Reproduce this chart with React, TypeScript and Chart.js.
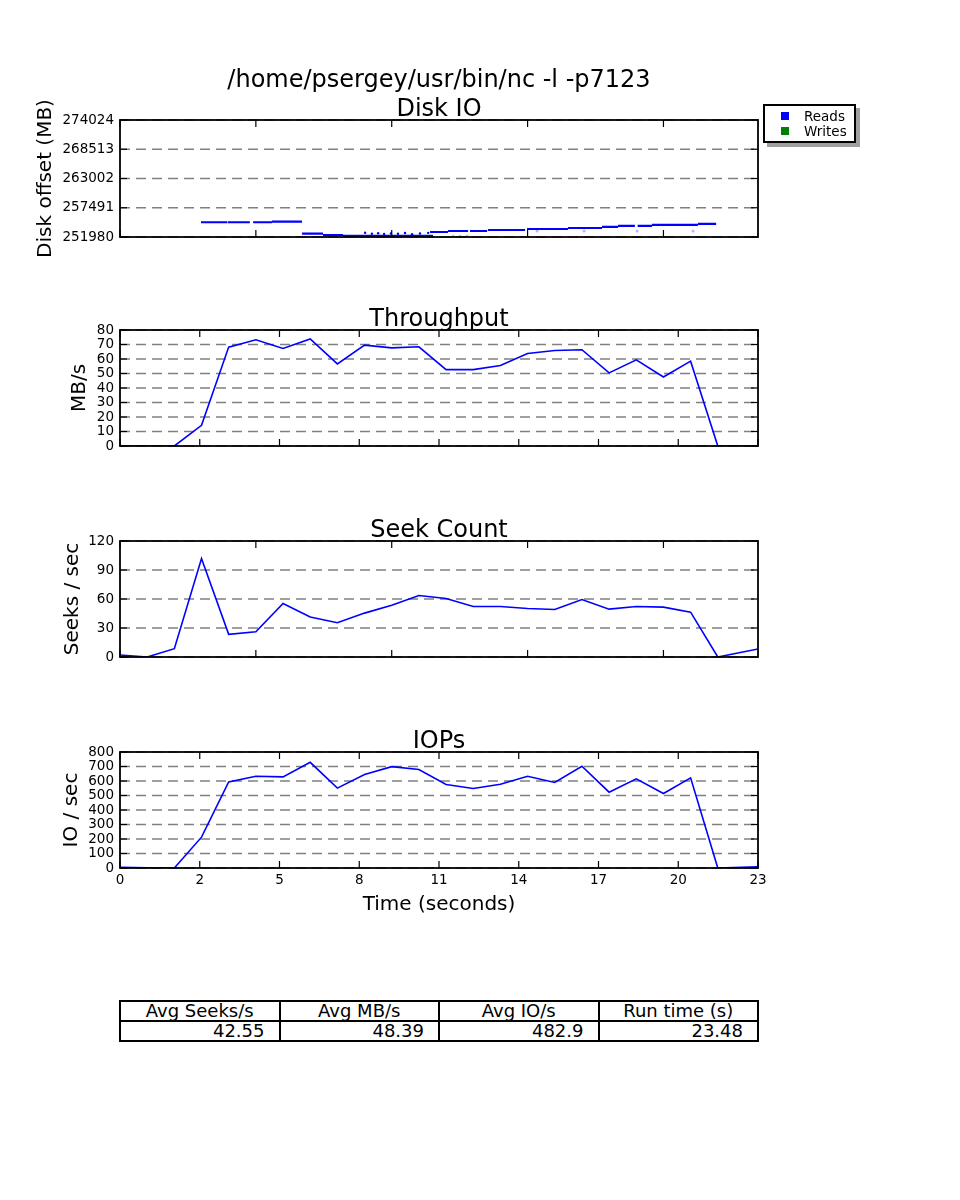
import React, { useEffect, useRef } from 'react';
import { Chart, registerables } from 'chart.js';

Chart.register(...registerables);

const FONT = "'DejaVu Sans', 'Liberation Sans', sans-serif";

// ---------- data ----------
const mainTitle = '/home/psergey/usr/bin/nc -l -p7123';
const runTime = 23.48;

const seconds = [0, 1, 2, 3, 4, 5, 6, 7, 8, 9, 10, 11, 12, 13, 14, 15, 16, 17, 18, 19, 20, 21, 22, 23.48];
const throughputMBs = [0, 0, 0, 14.3, 68.2, 73.3, 67.3, 73.8, 56.6, 69.6, 67.7, 68.4, 52.7, 52.7, 55.5, 63.8, 65.9, 66.4, 50.4, 59.4, 47.6, 58.5, 0, 0];
const seeksPerSec = [2.1, 0, 8.6, 101.8, 23.4, 26.1, 55.4, 41.3, 35.4, 45.4, 53.6, 63.6, 60.5, 52.3, 52.3, 50.2, 49.2, 59.5, 49.5, 52.3, 51.6, 46.4, 0, 8.3];
const iosPerSec = [5, 2, 0, 212.6, 594, 633, 628.6, 729, 551, 644.6, 699, 679, 576, 548.6, 578, 633, 590, 701.7, 523, 615, 514, 621.7, 0, 9];

// Disk IO: read runs (start time, end time, disk offset MB)
const readSegStart = [2.98, 3.96, 4.9, 5.59, 6.7, 7.47, 8.21, 11.41, 12.07, 12.88, 13.54, 14.98, 16.49, 17.74, 18.33, 19.05, 19.58, 21.27];
const readSegEnd = [3.94, 4.78, 5.59, 6.7, 7.47, 8.21, 11.52, 12.07, 12.81, 13.51, 14.91, 16.49, 17.74, 18.33, 18.95, 19.58, 21.27, 21.94];
const readSegOffset = [254757, 254757, 254757, 254889, 252603, 252358, 252207, 252925, 253113, 253113, 253302, 253491, 253680, 253869, 254058, 254058, 254247, 254436];
// scattered read requests
const readDotTime = [9.02, 9.27, 9.5, 9.72, 9.97, 10.23, 10.49, 10.75, 11.04, 11.34];
const readDotOffset = [252770, 252580, 252700, 252540, 252660, 252600, 252720, 252500, 252650, 252760];
const faintDotTime = [12.26, 12.51, 12.77, 15.35, 17.08, 19.03, 21.09];
const faintDotOffset = [252112, 252112, 252112, 253113, 253113, 253113, 253113];

// ticks
const diskTicks = [251980, 257491, 263002, 268513, 274024];
const throughputTicks = [0, 10, 20, 30, 40, 50, 60, 70, 80];
const seekTicks = [0, 30, 60, 90, 120];
const iopsTicks = [0, 100, 200, 300, 400, 500, 600, 700, 800];
const timeTickLabels = ['0', '2', '5', '8', '11', '14', '17', '20', '23'];
const fiveSecondTicks = [0, 5, 10, 15, 20];

// table + legend
const statHeaders = ['Avg Seeks/s', 'Avg MB/s', 'Avg IO/s', 'Run time (s)'];
const statValues = ['42.55', '48.39', '482.9', '23.48'];
const legendLabels = ['Reads', 'Writes'];
const legendColors = ['#0000ff', '#008000'];

// ---------- helpers ----------
const eighthTicks = timeTickLabels.map((_, i) => (runTime * i) / (timeTickLabels.length - 1));

const lineData = (vals: number[]) => seconds.map((x, i) => ({ x, y: vals[i] }));

const segData: { x: number; y: number | null }[] = [];
readSegStart.forEach((s, i) => {
  segData.push({ x: s, y: readSegOffset[i] });
  segData.push({ x: readSegEnd[i], y: readSegOffset[i] });
  segData.push({ x: readSegEnd[i], y: null });
});

const mplAxes = {
  id: 'mplAxes',
  beforeDatasetsDraw(chart: any) {
    const { ctx, chartArea: a } = chart;
    const ys = chart.scales.y;
    ctx.save();
    ctx.strokeStyle = '#808080';
    ctx.lineWidth = 1.6;
    ctx.setLineDash([10, 6]);
    ys.ticks.forEach((t: any) => {
      const py = ys.getPixelForValue(t.value);
      ctx.beginPath();
      ctx.moveTo(a.left, py);
      ctx.lineTo(a.right, py);
      ctx.stroke();
    });
    ctx.restore();
  },
  afterDatasetsDraw(chart: any) {
    const { ctx, chartArea: a } = chart;
    const xs = chart.scales.x;
    const ys = chart.scales.y;
    ctx.save();
    ctx.setLineDash([]);
    ctx.strokeStyle = '#000';
    ctx.lineWidth = 1.2;
    const seg = (x1: number, y1: number, x2: number, y2: number) => {
      ctx.beginPath();
      ctx.moveTo(x1, y1);
      ctx.lineTo(x2, y2);
      ctx.stroke();
    };
    xs.ticks.forEach((t: any) => {
      const px = xs.getPixelForValue(t.value);
      seg(px, a.bottom, px, a.bottom - 7);
      seg(px, a.top, px, a.top + 7);
    });
    ys.ticks.forEach((t: any) => {
      const py = ys.getPixelForValue(t.value);
      seg(a.left, py, a.left + 7, py);
      seg(a.right, py, a.right - 7, py);
    });
    ctx.lineWidth = 1.8;
    ctx.strokeRect(a.left, a.top, a.right - a.left, a.bottom - a.top);
    ctx.restore();
  },
};

type Panel = {
  top: number;
  height: number;
  titleLines: string[];
  titlePadBottom: number;
  yTitle: string;
  yTitleCenter: number;
  yMin: number;
  yMax: number;
  yTicks: number[];
  xTicks: number[];
  xLabels?: string[];
  xTitle?: string;
  xAxisH: number;
  datasets: any[];
};

const blueLine = (vals: number[]) => ({
  data: lineData(vals),
  borderColor: '#0000ff',
  borderWidth: 1.6,
  pointRadius: 0,
  tension: 0,
  fill: false,
});

const panels: Panel[] = [
  {
    top: 65,
    height: 202,
    titleLines: [mainTitle, 'Disk IO'],
    titlePadBottom: -2.6,
    yTitle: 'Disk offset (MB)',
    yTitleCenter: 46,
    yMin: diskTicks[0],
    yMax: diskTicks[diskTicks.length - 1],
    yTicks: diskTicks,
    xTicks: fiveSecondTicks,
    xAxisH: 30,
    datasets: [
      {
        data: segData,
        borderColor: '#0000ff',
        borderWidth: 2.2,
        pointRadius: 0,
        spanGaps: false,
        tension: 0,
        borderCapStyle: 'butt',
      },
      {
        data: readDotTime.map((x, i) => ({ x, y: readDotOffset[i] })),
        showLine: false,
        pointRadius: 1.2,
        pointBorderWidth: 0,
        pointBackgroundColor: '#0000ff',
        borderColor: '#0000ff',
      },
      {
        data: faintDotTime.map((x, i) => ({ x, y: faintDotOffset[i] })),
        showLine: false,
        pointRadius: 1.5,
        pointBorderWidth: 0,
        pointBackgroundColor: 'rgba(110,110,255,0.5)',
        borderColor: 'rgba(110,110,255,0.5)',
      },
    ],
  },
  {
    top: 304,
    height: 162,
    titleLines: ['Throughput'],
    titlePadBottom: -2.8,
    yTitle: 'MB/s',
    yTitleCenter: 80,
    yMin: 0,
    yMax: 80,
    yTicks: throughputTicks,
    xTicks: eighthTicks,
    xAxisH: 20,
    datasets: [blueLine(throughputMBs)],
  },
  {
    top: 515,
    height: 162,
    titleLines: ['Seek Count'],
    titlePadBottom: -2.8,
    yTitle: 'Seeks / sec',
    yTitleCenter: 73,
    yMin: 0,
    yMax: 120,
    yTicks: seekTicks,
    xTicks: fiveSecondTicks,
    xAxisH: 20,
    datasets: [blueLine(seeksPerSec)],
  },
  {
    top: 726,
    height: 194,
    titleLines: ['IOPs'],
    titlePadBottom: -2.8,
    yTitle: 'IO / sec',
    yTitleCenter: 72,
    yMin: 0,
    yMax: 800,
    yTicks: iopsTicks,
    xTicks: eighthTicks,
    xLabels: timeTickLabels,
    xTitle: 'Time (seconds)',
    xAxisH: 52,
    datasets: [blueLine(iosPerSec)],
  },
];

const TITLE_SHIFT = 1.5;

function makeChart(canvas: HTMLCanvasElement, p: Panel) {
  return new Chart(canvas, {
    type: 'line',
    data: { datasets: p.datasets },
    options: {
      animation: false,
      responsive: false,
      events: [],
      layout: { padding: { left: 0, right: 202, top: 0, bottom: 0 } },
      plugins: {
        legend: { display: false },
        tooltip: { enabled: false },
        title: {
          display: true,
          fullSize: false,
          text: p.titleLines,
          color: '#000',
          font: { family: FONT, size: 24, weight: 'normal', lineHeight: 1.2 },
          padding: { top: TITLE_SHIFT, bottom: p.titlePadBottom - TITLE_SHIFT },
        },
      },
      scales: {
        x: {
          type: 'linear',
          min: 0,
          max: runTime,
          grid: { display: false, drawTicks: false },
          border: { display: false },
          afterBuildTicks: (s: any) => {
            s.ticks = p.xTicks.map((v) => ({ value: v }));
          },
          afterFit: (s: any) => {
            s.height = p.xAxisH;
          },
          ticks: {
            display: !!p.xLabels,
            padding: 4,
            maxRotation: 0,
            autoSkip: false,
            color: '#000',
            font: { family: FONT, size: 13.5 },
            callback: (_v: any, i: number) => (p.xLabels ? p.xLabels[i] : ''),
          },
          title: {
            display: !!p.xTitle,
            text: p.xTitle || '',
            color: '#000',
            font: { family: FONT, size: 20, weight: 'normal', lineHeight: 1.2 },
            padding: { top: 0, bottom: 3 },
          },
        },
        y: {
          type: 'linear',
          position: 'left',
          min: p.yMin,
          max: p.yMax,
          grid: { display: false, drawTicks: false },
          border: { display: false },
          afterBuildTicks: (s: any) => {
            s.ticks = p.yTicks.map((v) => ({ value: v }));
          },
          afterFit: (s: any) => {
            s.width = 120;
          },
          ticks: {
            padding: 6,
            autoSkip: false,
            color: '#000',
            font: { family: FONT, size: 13.5 },
            callback: (_v: any, i: number) => String(p.yTicks[i]),
          },
          title: {
            display: true,
            text: p.yTitle,
            color: '#000',
            font: { family: FONT, size: 20, weight: 'normal', lineHeight: 1.2 },
            padding: { top: p.yTitleCenter - 12, bottom: 0 },
          },
        },
      },
    } as any,
    plugins: [mplAxes],
  });
}

export default function App() {
  const canvases = useRef<(HTMLCanvasElement | null)[]>([]);

  useEffect(() => {
    const charts = panels.map((p, i) => makeChart(canvases.current[i] as HTMLCanvasElement, p));
    return () => charts.forEach((c) => c.destroy());
  }, []);

  const cellBorder = '2px solid #000';

  return (
    <div
      style={{
        position: 'absolute',
        left: 0,
        top: 0,
        width: 960,
        height: 1200,
        background: '#fff',
        fontFamily: FONT,
        color: '#000',
      }}
    >
      {panels.map((p, i) => (
        <canvas
          key={i}
          ref={(el) => {
            canvases.current[i] = el;
          }}
          width={960}
          height={p.height}
          style={{ position: 'absolute', left: 0, top: p.top, width: 960, height: p.height }}
        />
      ))}

      {/* legend */}
      <div
        style={{
          position: 'absolute',
          left: 763,
          top: 104,
          width: 93,
          height: 39,
          boxSizing: 'border-box',
          border: cellBorder,
          background: '#fff',
          boxShadow: '4px 4px 0 #a0a0a0',
        }}
      >
        {legendLabels.map((lab, i) => (
          <React.Fragment key={lab}>
            <div
              style={{
                position: 'absolute',
                left: 16,
                top: 6 + i * 14.5,
                width: 8,
                height: 8,
                background: legendColors[i],
              }}
            />
            <div
              style={{
                position: 'absolute',
                left: 39,
                top: 3 + i * 14.5,
                fontSize: 13.5,
                lineHeight: '15px',
                whiteSpace: 'nowrap',
              }}
            >
              {lab}
            </div>
          </React.Fragment>
        ))}
      </div>

      {/* stats table */}
      <table
        style={{
          position: 'absolute',
          left: 119,
          top: 1000,
          width: 640,
          borderCollapse: 'collapse',
          tableLayout: 'fixed',
          fontSize: 18,
        }}
      >
        <tbody>
          <tr>
            {statHeaders.map((h) => (
              <td
                key={h}
                style={{
                  border: cellBorder,
                  height: 18,
                  padding: 0,
                  lineHeight: '18px',
                  textAlign: 'center',
                  whiteSpace: 'nowrap',
                }}
              >
                {h}
              </td>
            ))}
          </tr>
          <tr>
            {statValues.map((v, i) => (
              <td
                key={i}
                style={{
                  border: cellBorder,
                  height: 18,
                  padding: '0 14px 0 0',
                  lineHeight: '18px',
                  textAlign: 'right',
                  whiteSpace: 'nowrap',
                }}
              >
                {v}
              </td>
            ))}
          </tr>
        </tbody>
      </table>
    </div>
  );
}
